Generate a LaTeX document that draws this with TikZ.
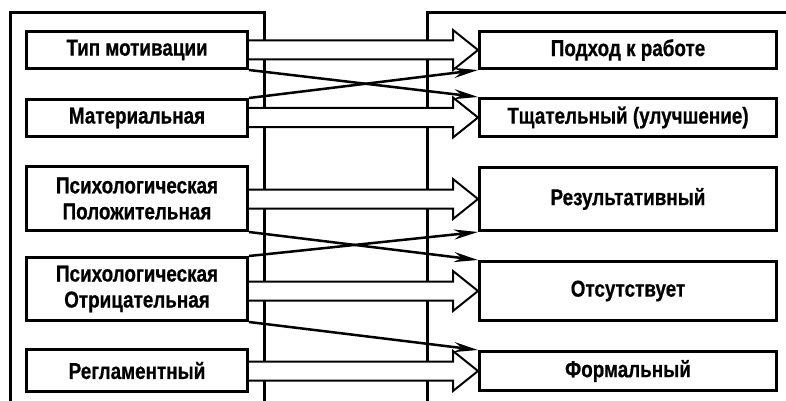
\documentclass[tikz,border=0pt]{standalone}
\usepackage{fontspec}
\setmainfont{Liberation Sans}[FakeStretch=0.82, BoldFeatures={FakeBold=0.6}]
\usetikzlibrary{arrows.meta,calc}

\tikzset{
  box/.style={draw, line width=3pt, fill=white, align=center, inner sep=0pt,
    font=\bfseries\fontsize{23}{26}\selectfont},
  leftbox/.style={box, minimum width=221pt},
  rightbox/.style={box, minimum width=297pt},
  frame/.style={line width=3pt},
  bigarrow/.style={draw, fill=white, line width=2pt},
  link/.style={line width=2.5pt, -{Stealth[length=24pt,width=10pt]}}
}

\begin{document}
\begin{tikzpicture}[x=1pt, y=-1pt]
  \useasboundingbox (0,0) rectangle (786,401);

  \node[leftbox, minimum height=37pt] (L1) at (137,50) {Тип мотивации};
  \node[leftbox, minimum height=37pt] (L2) at (137,118) {Материальная};
  \node[leftbox, minimum height=64pt] (L3) at (137,198.5) {Психологическая\\Положительная};
  \node[leftbox, minimum height=63pt] (L4) at (137,289) {Психологическая\\Отрицательная};
  \node[leftbox, minimum height=42pt] (L5) at (137,370.5) {Регламентный};

  \node[rightbox, minimum height=37pt] (R1) at (628,50) {Подход к работе};
  \node[rightbox, minimum height=38pt] (R2) at (628,117.5) {Тщательный (улучшение)};
  \node[rightbox, minimum height=63pt] (R3) at (628,199) {Результативный};
  \node[rightbox, minimum height=59pt] (R4) at (628,291) {Отсутствует};
  \node[rightbox, minimum height=39pt] (R5) at (628,371) {Формальный};

  \draw[frame] (10,401) -- (10,13) -- (264,13) -- (264,401);
  \draw[frame] (427,401) -- (427,13) -- (786,13);

  \foreach \a/\b in {L1/R1, L2/R2, L3/R3, L4/R4, L5/R5}
    \draw[bigarrow] let \p1=(\a.east), \p2=(\b.west) in
      (\x1,\y2+9.5pt) -- (\x2-25pt,\y2+9.5pt) -- (\x2-25pt,\y2+20pt) -- (\x2,\y2)
      -- (\x2-25pt,\y2-20pt) -- (\x2-25pt,\y2-9.5pt) -- (\x1,\y2-9.5pt);

  \draw[link] (L1.south east) -- (R2.north west);
  \draw[link] (L2.north east) -- (R1.south west);
  \draw[link] (L3.south east) -- (R4.north west);
  \draw[link] (L4.north east) -- (R3.south west);
  \draw[link] (L4.south east) -- (R5.north west);
\end{tikzpicture}
\end{document}
